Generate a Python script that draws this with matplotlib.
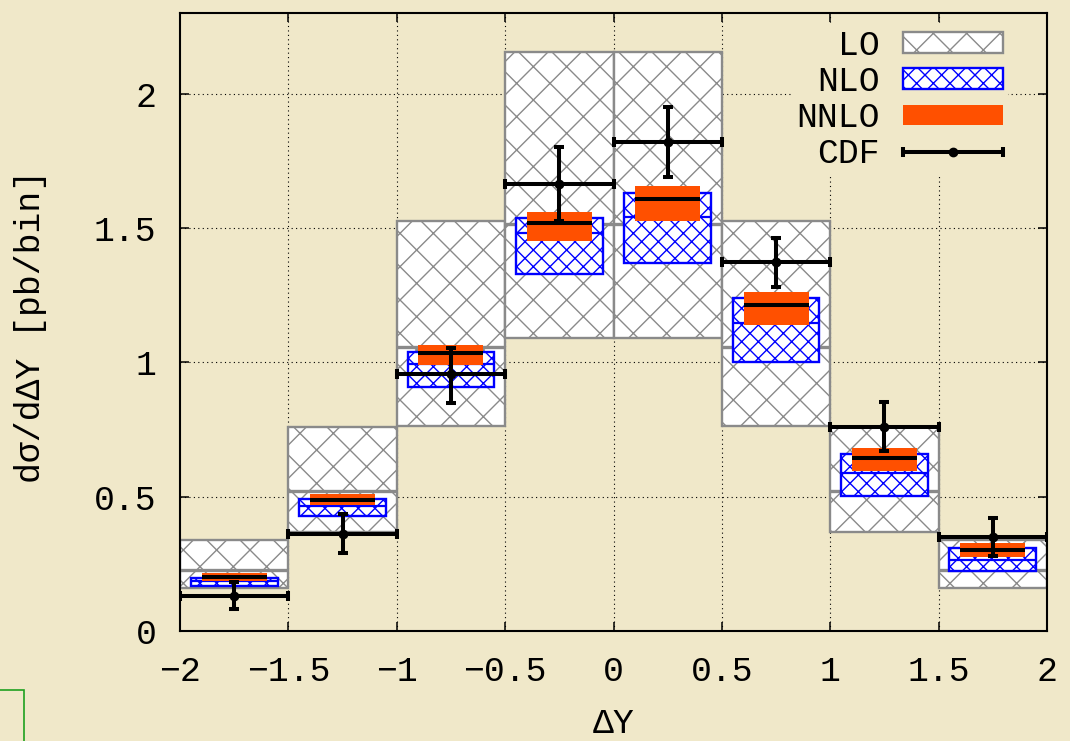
import numpy as np
import matplotlib
matplotlib.use("Agg")
import matplotlib.pyplot as plt
from matplotlib.patches import Rectangle
from matplotlib.legend_handler import HandlerErrorbar

# ---------------- data ----------------
bin_centers = [-1.75, -1.25, -0.75, -0.25, 0.25, 0.75, 1.25, 1.75]

lo_low = [0.159, 0.370, 0.763, 1.092, 1.092, 0.763, 0.370, 0.159]
lo_high = [0.339, 0.760, 1.526, 2.154, 2.154, 1.526, 0.760, 0.339]
lo_central = [0.228, 0.520, 1.058, 1.515, 1.515, 1.058, 0.522, 0.228]

nlo_low = [0.169, 0.429, 0.909, 1.327, 1.371, 1.000, 0.504, 0.223]
nlo_high = [0.198, 0.491, 1.037, 1.536, 1.629, 1.238, 0.658, 0.308]
nlo_central = [0.185, 0.467, 0.995, 1.480, 1.542, 1.145, 0.587, 0.264]

nnlo_low = [0.187, 0.469, 0.990, 1.453, 1.527, 1.139, 0.595, 0.277]
nnlo_high = [0.215, 0.510, 1.064, 1.558, 1.657, 1.262, 0.680, 0.329]
nnlo_central = [0.202, 0.488, 1.036, 1.517, 1.608, 1.213, 0.643, 0.301]

cdf_value = [0.131, 0.362, 0.955, 1.662, 1.821, 1.372, 0.760, 0.351]
cdf_err_up = [0.052, 0.072, 0.097, 0.140, 0.130, 0.092, 0.091, 0.071]
cdf_err_down = [0.050, 0.073, 0.105, 0.135, 0.130, 0.093, 0.090, 0.071]

xticks = [-2, -1.5, -1, -0.5, 0, 0.5, 1, 1.5, 2]
xtick_labels = ["\u22122", "\u22121.5", "\u22121", "\u22120.5", "0", "0.5", "1", "1.5", "2"]
yticks = [0, 0.5, 1, 1.5, 2]
ytick_labels = ["0", "0.5", "1", "1.5", "2"]

# ---------------- style ----------------
BG = "#F0E8C9"
LO_COL = "#8A8A8A"
NLO_COL = "#0000FF"
NNLO_COL = "#FF5000"
FONT = ["Liberation Mono", "DejaVu Sans Mono", "DejaVu Sans"]
FS = 25

plt.rcParams["font.family"] = FONT
plt.rcParams["hatch.linewidth"] = 1.0
plt.rcParams["axes.unicode_minus"] = True

W, H = 1070, 741
fig = plt.figure(figsize=(W / 100, H / 100), dpi=100)
fig.patch.set_facecolor(BG)

L, R, T, B = 180, 1047, 13, 631
ax = fig.add_axes([L / W, (H - B) / H, (R - L) / W, (B - T) / H])
ax.set_facecolor(BG)

centers = np.array(bin_centers)
bin_w = 0.5
nlo_w = 0.4
nnlo_w = 0.3

lo_low_a, lo_high_a = np.array(lo_low), np.array(lo_high)
nlo_low_a, nlo_high_a = np.array(nlo_low), np.array(nlo_high)
nnlo_low_a, nnlo_high_a = np.array(nnlo_low), np.array(nnlo_high)

# dotted grid at the major tick positions (kept beneath legend and boxes)
grid_style = dict(color="black", linestyle=(0, (1, 3)), linewidth=0.8, zorder=0.6)
for xv in xticks[1:-1]:
    ax.axvline(xv, **grid_style)
for yv in yticks[1:]:
    ax.axhline(yv, **grid_style)

lo_bars = ax.bar(centers, lo_high_a - lo_low_a, bottom=lo_low_a, width=bin_w,
                 facecolor="white", edgecolor=LO_COL, hatch="x", linewidth=1.7,
                 zorder=2, label="LO")
ax.hlines(lo_central, centers - bin_w / 2, centers + bin_w / 2, colors=LO_COL,
          linewidth=2.4, zorder=2.1)

nlo_bars = ax.bar(centers, nlo_high_a - nlo_low_a, bottom=nlo_low_a, width=nlo_w,
                  facecolor="white", edgecolor=NLO_COL, hatch="xx", linewidth=1.7,
                  zorder=3, label="NLO")
ax.hlines(nlo_central, centers - nlo_w / 2, centers + nlo_w / 2, colors=NLO_COL,
          linewidth=1.6, zorder=3.1)

nnlo_bars = ax.bar(centers, nnlo_high_a - nnlo_low_a, bottom=nnlo_low_a, width=nnlo_w,
                   facecolor=NNLO_COL, edgecolor="none", linewidth=0,
                   zorder=4, label="NNLO")
ax.hlines(nnlo_central, centers - nnlo_w / 2, centers + nnlo_w / 2, colors="black",
          linewidth=2.9, zorder=4.1)

ax.errorbar(centers, cdf_value, xerr=bin_w / 2, yerr=[cdf_err_down, cdf_err_up],
            fmt="o", color="black", markersize=6, elinewidth=2.9, capsize=3.6,
            capthick=2.9, zorder=5)
cdf_proxy = ax.errorbar([np.nan], [np.nan], xerr=[np.nan], fmt="o", color="black",
                        markersize=6, elinewidth=2.9, capsize=3.6, capthick=2.9,
                        label="CDF")

# ---------------- axes ----------------
ax.set_xlim(-2, 2)
ax.set_ylim(0, 2.3)
ax.set_xticks(xticks)
ax.set_xticklabels(xtick_labels)
ax.set_yticks(yticks)
ax.set_yticklabels(ytick_labels)
ax.tick_params(direction="in", top=True, right=True, length=6.5, width=1.1,
               labelsize=FS, colors="black")
ax.tick_params(axis="x", pad=17)
ax.tick_params(axis="y", pad=17)
for s in ax.spines.values():
    s.set_linewidth(1.5)
ax.set_axisbelow(False)

ax.set_xlabel("\u0394Y", fontsize=FS, va="center")
ax.xaxis.set_label_coords(0.5, -0.149)
ax.set_ylabel("d\u03c3/d\u0394Y [pb/bin]", fontsize=FS, va="center")
ax.yaxis.set_label_coords(-0.172, 0.4935)

leg = ax.legend(handles=[lo_bars, nlo_bars, nnlo_bars, cdf_proxy],
                labels=["LO", "NLO", "NNLO", "CDF"],
                loc="upper right", bbox_to_anchor=(0.975, 1.011),
                markerfirst=False, fontsize=FS, frameon=True,
                facecolor=BG, edgecolor="none", framealpha=1,
                fancybox=False, handlelength=2.88, handleheight=0.52,
                handletextpad=0.66, labelspacing=0.09, borderpad=0.15,
                handler_map={type(cdf_proxy): HandlerErrorbar(xerr_size=1.44)})
leg.set_zorder(1)

# stray green frame at bottom left of the page
fig.patches.append(Rectangle((-10 / W, -0.1), 34 / W, (741 - 690) / H + 0.1,
                             transform=fig.transFigure, fill=False,
                             edgecolor="#1FA01F", linewidth=1.2))

fig.savefig("out.png", dpi=100, facecolor=BG)
